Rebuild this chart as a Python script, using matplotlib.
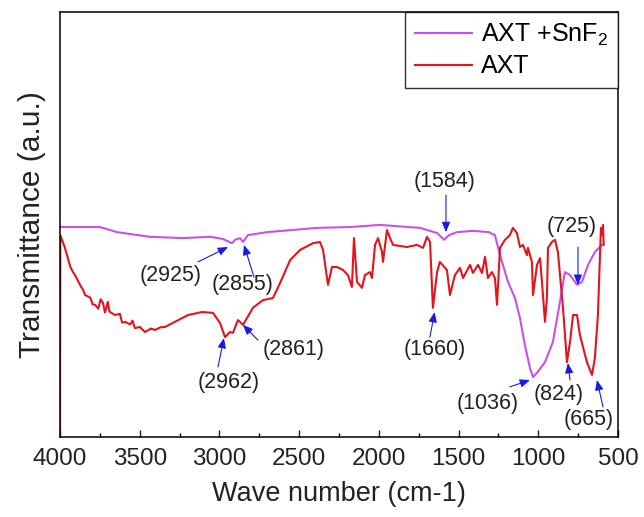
import matplotlib
matplotlib.use("Agg")
import matplotlib.pyplot as plt

plt.rcParams['font.family'] = ['Liberation Sans', 'DejaVu Sans']
plt.rcParams['mathtext.fontset'] = 'custom'
plt.rcParams['mathtext.rm'] = 'Liberation Sans'
plt.rcParams['mathtext.it'] = 'Liberation Sans:italic'

# AXT + SnF2 spectrum (wave number, transmittance a.u.)
wn_snf2 = [4000, 3749, 3642, 3436, 3229, 3059, 2978, 2921, 2902, 2871, 2852, 2821,
           2702, 2388, 2181, 1993, 1742, 1635, 1590, 1560, 1510, 1410, 1310, 1272,
           1240, 1190, 1146, 1115, 1084, 1052, 1033, 1008, 958, 908, 864, 833, 801,
           757, 726, 688, 645, 601]
t_snf2 = [49.4, 49.4, 48.2, 47.1, 46.8, 47.1, 46.6, 45.6, 46.4, 46.8, 45.9, 47.5,
          48.2, 49.2, 49.4, 49.9, 49.2, 48.0, 46.4, 47.5, 48.2, 48.5, 48.2, 47.5,
          42.8, 36.5, 32.7, 28.0, 21.6, 16.2, 14.1, 15.1, 17.6, 22.4, 31.8, 38.8, 38.1,
          35.8, 36.5, 40.5, 43.5, 45.2]

# AXT spectrum
wn_axt = [4000, 3998, 3969, 3935, 3920, 3906, 3870, 3855, 3843, 3810, 3795, 3780,
          3760, 3745, 3730, 3718, 3700, 3690, 3655, 3625, 3610, 3592, 3560, 3545,
          3530, 3500, 3467, 3430, 3404, 3370, 3341, 3279, 3197, 3109, 3040, 2996,
          2965, 2934, 2915, 2884, 2852,
          2827, 2790, 2727, 2664, 2620, 2557, 2495, 2413, 2369, 2350, 2319, 2294,
          2263, 2225, 2194, 2169, 2156, 2137, 2106, 2087, 2056, 2043, 2024, 2005,
          1980, 1974, 1949, 1930, 1911, 1824, 1761, 1723, 1698, 1679, 1661, 1635,
          1617, 1573, 1554, 1523, 1491, 1472, 1428, 1410, 1378, 1353, 1334, 1316,
          1291, 1272, 1259, 1240, 1209, 1178, 1159, 1134, 1115, 1096, 1071, 1065,
          1040, 1033, 1008, 989, 977, 958, 946, 939, 914, 895, 877, 845, 820, 801,
          782, 757, 739, 695, 663, 645, 626, 607, 600, 594, 590]
t_axt = [0, 47.5, 44.5, 40.0, 38.9, 38.1, 35.5, 34.6, 33.4, 32.8, 31.2, 31.1,
         30.2, 32.4, 31.5, 29.3, 31.8, 29.5, 28.7, 29.0, 26.9, 27.1, 26.5, 27.4,
         25.6, 25.9, 24.7, 25.5, 25.2, 25.8, 25.9, 27.1, 28.7, 29.4, 29.2, 26.8,
         23.5, 24.7, 24.5, 27.5, 26.4,
         28.0, 30.4, 32.2, 32.7, 36.2, 41.6, 44.0, 45.6, 45.9, 44.0, 35.8, 40.0,
         40.0, 39.3, 38.1, 35.3, 46.8, 36.5, 35.1, 38.1, 38.8, 37.4, 45.2, 46.8,
         43.5, 41.2, 48.7, 46.8, 45.2, 44.7, 45.2, 44.5, 47.1, 45.9, 30.4, 38.8,
         41.2, 39.3, 33.4, 38.1, 39.8, 37.4, 40.5, 38.6, 40.5, 38.6, 42.4, 37.4,
         38.8, 37.4, 31.1, 44.5, 46.4, 47.5, 49.2, 48.0, 44.7, 45.2, 42.8, 44.5,
         41.2, 33.4, 40.5, 42.1, 36.5, 27.1, 32.7, 44.5, 45.9, 46.4, 43.5, 30.4, 17.6, 22.4,
         28.7, 28.7, 24.0, 17.6, 14.6, 18.6, 28.7, 49.2, 47.5, 49.9, 45.2]

# peak labels: text, text position, arrow tail, arrow head
peak_labels = ['(2925)', '(2855)', '(2962)', '(2861)', '(1584)', '(1660)',
               '(1036)', '(824)', '(725)', '(665)']
label_pos = [(3304, 38.1), (2858, 35.8), (2940, 12.9), (2532, 20.5), (1586, 60.0),
             (1650, 20.5), (1316, 8.0), (870, 10.1), (789, 49.6), (682, 4.0)]
arrow_tail = [(3134, 41.2), (2783, 37.6), (3009, 16.5), (2758, 22.8), (1579, 56.9),
              (1680, 23.5), (1178, 11.8), (801, 13.4), (751, 44.7), (594, 7.1)]
arrow_head = [(2946, 44.7), (2846, 45.2), (2972, 23.3), (2853, 26.4), (1579, 48.2),
              (1650, 29.4), (1052, 13.4), (814, 17.4), (751, 35.8), (632, 13.4)]

fig = plt.figure(figsize=(6.44, 5.17), dpi=100)
ax = fig.add_axes([60/644, 80/517, 558/644, 425/517])

ax.plot(wn_snf2, t_snf2, color='#c653e6', lw=1.5, label='AXT +SnF$_2$')
ax.plot(wn_axt, t_axt, color='#e3141b', lw=1.5, label='AXT')

for txt, pos, tail, head in zip(peak_labels, label_pos, arrow_tail, arrow_head):
    ax.text(pos[0], pos[1], txt, ha='center', va='center', fontsize=15.5, color='#222222')
    ax.annotate('', xy=head, xytext=tail,
                arrowprops=dict(arrowstyle='-|>,head_length=0.6,head_width=0.25',
                                color='#1a1ae6', lw=0.8, mutation_scale=10,
                                shrinkA=0, shrinkB=0))

ax.set_xlim(4000, 500)
ax.set_ylim(0, 100)
ax.set_xticks([4000, 3500, 3000, 2500, 2000, 1500, 1000, 500])
ax.set_xticks(range(3750, 500, -500), minor=True)
ax.set_yticks([])
ax.tick_params(axis='x', which='major', direction='in', length=5, width=1,
               labelsize=17.5, pad=8, colors='#222222')
ax.tick_params(axis='x', which='minor', direction='in', length=3, width=1)
for s in ax.spines.values():
    s.set_linewidth(1.1)

ax.set_xlabel('Wave number (cm-1)', fontsize=19.5, labelpad=8, color='#222222')
ax.set_ylabel('Transmittance (a.u.)', fontsize=21.5, labelpad=10, color='#222222')

leg = ax.legend(loc='upper right', bbox_to_anchor=(1, 1), borderaxespad=0,
                fontsize=18, frameon=True, fancybox=False, edgecolor='black',
                handlelength=2.3, handletextpad=0.35, labelspacing=0.25)
leg.get_frame().set_linewidth(1.0)

fig.savefig('out.png', dpi=100)
